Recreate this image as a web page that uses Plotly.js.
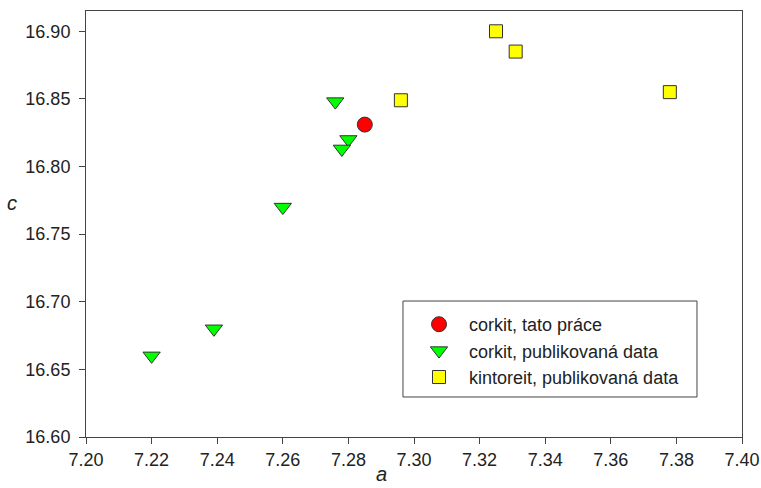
<!DOCTYPE html>
<html>
<head>
<meta charset="utf-8">
<script src="https://cdn.plot.ly/plotly-3.0.1.min.js"></script>
<style>html,body{margin:0;padding:0;background:#fff;}#chart{width:761px;height:488px;}</style>
</head>
<body>
<div id="chart"></div>
<script>
// corkit, tato práce
var corkitThisA = [7.285];
var corkitThisC = [16.831];
// corkit, publikovaná data
var corkitPubA = [7.220, 7.239, 7.260, 7.276, 7.280, 7.278];
var corkitPubC = [16.660, 16.680, 16.770, 16.848, 16.820, 16.813];
// kintoreit, publikovaná data
var kintPubA = [7.296, 7.325, 7.331, 7.378];
var kintPubC = [16.849, 16.900, 16.885, 16.855];

var names = ['corkit, tato práce', 'corkit, publikovaná data', 'kintoreit, publikovaná data'];
var xTicks = [7.20, 7.22, 7.24, 7.26, 7.28, 7.30, 7.32, 7.34, 7.36, 7.38, 7.40];
var yTicks = [16.60, 16.65, 16.70, 16.75, 16.80, 16.85, 16.90];

var fontFam = 'Liberation Sans, Arial, sans-serif';
var traces = [
  {x: corkitThisA, y: corkitThisC, name: names[0], type: 'scatter', mode: 'markers',
   marker: {symbol: 'circle', size: 15, color: '#ff0000', line: {color: '#333333', width: 1}}},
  {x: corkitPubA, y: corkitPubC, name: names[1], type: 'scatter', mode: 'markers',
   marker: {symbol: 'triangle-down', size: 15, color: '#00ff00', line: {color: '#333333', width: 1}}},
  {x: kintPubA, y: kintPubC, name: names[2], type: 'scatter', mode: 'markers',
   marker: {symbol: 'square', size: 13, color: '#ffff00', line: {color: '#333333', width: 1}}}
];

var layout = {
  width: 761, height: 488,
  margin: {l: 86, r: 19, t: 11, b: 51},
  paper_bgcolor: '#ffffff', plot_bgcolor: '#ffffff',
  font: {family: fontFam, size: 18, color: '#222222'},
  showlegend: true,
  legend: {x: 0.4924, y: 0.3075, xanchor: 'left', yanchor: 'top', itemwidth: 50,
           bgcolor: 'rgba(0,0,0,0)', borderwidth: 0,
           font: {family: fontFam, size: 18, color: '#222222'}},
  xaxis: {range: [7.2, 7.4], tickmode: 'array', tickvals: xTicks,
          ticktext: xTicks.map(function(v){return v.toFixed(2);}),
          ticks: 'outside', ticklen: 6, tickwidth: 1, tickcolor: '#444444',
          showline: true, linecolor: '#444444', linewidth: 1, mirror: true,
          showgrid: false, zeroline: false, fixedrange: true},
  yaxis: {range: [16.6, 16.915], tickmode: 'array', tickvals: yTicks,
          ticktext: yTicks.map(function(v){return v.toFixed(2);}),
          ticks: 'outside', ticklen: 6, tickwidth: 1, tickcolor: '#444444', ticklabelstandoff: 5,
          showline: true, linecolor: '#444444', linewidth: 1, mirror: true,
          showgrid: false, zeroline: false, fixedrange: true},
  shapes: [{type: 'rect', xref: 'paper', yref: 'paper', x0: 0.4832, x1: 0.9314, y0: 0.0939, y1: 0.3192,
            line: {color: '#444444', width: 1}, fillcolor: 'rgba(0,0,0,0)'}],
  annotations: [
    {text: '<i>c</i>', xref: 'paper', yref: 'paper', x: -0.1128, y: 0.549, showarrow: false,
     font: {family: fontFam, size: 20, color: '#222222'}, xanchor: 'center', yanchor: 'middle'},
    {text: '<i>a</i>', xref: 'paper', yref: 'paper', x: 0.451, y: -0.1174, showarrow: false,
     font: {family: fontFam, size: 20, color: '#222222'}, xanchor: 'center', yanchor: 'bottom'}
  ]
};

Plotly.newPlot('chart', traces, layout, {displayModeBar: false, staticPlot: true});
</script>
</body>
</html>
